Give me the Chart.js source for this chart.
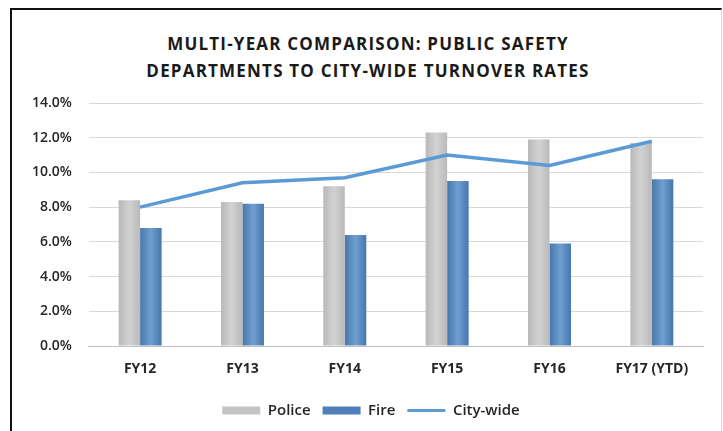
<!DOCTYPE html>
<html>
<head>
<meta charset="utf-8">
<script src="https://cdn.jsdelivr.net/npm/chart.js@4"></script>
<style>
  body { margin: 0; background: #fff; }
  #frame {
    position: absolute; left: 10px; top: 8px; width: 709px; height: 423px;
    border-left: 2px solid #111; border-top: 2px solid #111; border-right: 1px solid #ddd;
  }
  #titulo {
    position: absolute; left: 0; top: 30px; width: 736px; text-align: center;
    font: bold 17px 'Open Sans', sans-serif; letter-spacing: 1.2px; line-height: 27px; color: #1a1a1a;
  }
  #wrap { position: absolute; left: 0; top: 0; width: 723px; height: 431px; }
</style>
</head>
<body>
<div id="frame"></div>
<div id="titulo">MULTI-YEAR COMPARISON: PUBLIC SAFETY<br>DEPARTMENTS TO CITY-WIDE TURNOVER RATES</div>
<div id="wrap"><canvas id="grafico" width="723" height="431"></canvas></div>
<script>
// dados
const anos = ['FY12', 'FY13', 'FY14', 'FY15', 'FY16', 'FY17 (YTD)'];
const police = [8.4, 8.3, 9.2, 12.3, 11.9, 11.7];
const fire = [6.8, 8.2, 6.4, 9.5, 5.9, 9.6];
const cityWide = [8.0, 9.4, 9.7, 11.0, 10.4, 11.8];

const larguraGrupo = 0.42; // fração da categoria ocupada pelas duas barras

// gradiente horizontal em cada barra, como no Excel
function gradiente(cores, solido) {
  return function (ctx) {
    const chart = ctx.chart;
    if (ctx.type !== 'data' || !chart.chartArea || !chart.scales.x) return solido;
    const x = chart.scales.x;
    const c = x.getPixelForValue(ctx.dataIndex);
    const w = x.width / anos.length * larguraGrupo / 2;
    const esq = ctx.datasetIndex === 1 ? c - w : c;
    const g = chart.ctx.createLinearGradient(esq, 0, esq + w, 0);
    g.addColorStop(0, cores[0]);
    g.addColorStop(0.5, cores[1]);
    g.addColorStop(1, cores[0]);
    return g;
  };
}

const fonte = { family: "'Open Sans', sans-serif", size: 14, weight: '600' };

const data = {
  labels: anos,
  datasets: [
    {
      type: 'line',
      label: 'City-wide',
      data: cityWide,
      borderColor: '#5B9BD5',
      backgroundColor: '#5B9BD5',
      borderWidth: 3.5,
      pointRadius: 0,
      tension: 0,
      order: 0
    },
    {
      label: 'Police',
      data: police,
      backgroundColor: gradiente(['#B9B9B9', '#D2D2D2'], '#C4C4C4'),
      order: 1
    },
    {
      label: 'Fire',
      data: fire,
      backgroundColor: gradiente(['#4676AD', '#709FCF'], '#5B8BC2'),
      order: 1
    }
  ]
};

const ordemLegenda = { 'Police': 0, 'Fire': 1, 'City-wide': 2 };
const corLegenda = { 'Police': '#C4C4C4', 'Fire': '#4F7FB8', 'City-wide': '#5B9BD5' };

// empurra a legenda um pouco para a direita, como no original
const moverLegenda = {
  id: 'moverLegenda',
  afterLayout(chart) {
    if (chart.legend) { chart.legend.left += 12; chart.legend.right += 12; }
  }
};

const options = {
  responsive: false,
  animation: false,
  datasets: { bar: { categoryPercentage: larguraGrupo, barPercentage: 1 } },
  layout: { padding: { left: 15, right: 20, top: 103, bottom: 3 } },
  scales: {
    x: {
      grid: { display: false },
      border: { color: '#BFBFBF', width: 1 },
      ticks: { color: '#262626', font: { family: "'Open Sans', sans-serif", size: 14, weight: 'bold' }, padding: 7 },
      afterFit: s => { s.height = 45; }
    },
    y: {
      min: 0,
      max: 14,
      ticks: { stepSize: 2, color: '#262626', font: fonte, padding: 17, callback: v => v.toFixed(1) + '%' },
      grid: { color: '#D9D9D9', drawTicks: false },
      border: { display: false }
    }
  },
  plugins: {
    title: { display: false },
    tooltip: { enabled: false },
    legend: {
      position: 'bottom',
      labels: {
        color: '#262626',
        font: { family: "'Open Sans', sans-serif", size: 15, weight: '600' },
        padding: 12,
        usePointStyle: true,
        pointStyleWidth: 38,
        boxHeight: 8,
        sort: (a, b) => ordemLegenda[a.text] - ordemLegenda[b.text],
        generateLabels: chart => chart.data.datasets.map((ds, i) => ({
          text: ds.label,
          fillStyle: corLegenda[ds.label],
          strokeStyle: corLegenda[ds.label],
          lineWidth: ds.type === 'line' ? 3 : 0,
          pointStyle: ds.type === 'line' ? 'line' : 'rect',
          fontColor: '#262626',
          datasetIndex: i,
          hidden: false
        }))
      }
    }
  }
};

const grafico = new Chart(document.getElementById('grafico'), {
  type: 'bar',
  data: data,
  options: options,
  plugins: [moverLegenda]
});
</script>
</body>
</html>
